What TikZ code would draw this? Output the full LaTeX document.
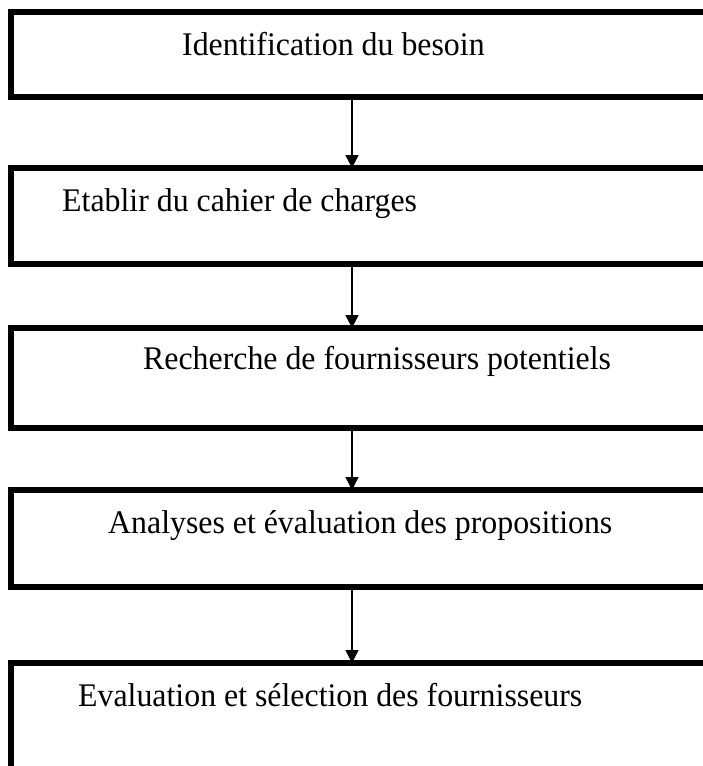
\documentclass[tikz,border=0pt]{standalone}
\usepackage{fontspec}
\setmainfont{Liberation Serif}[FakeStretch=0.965]
\usetikzlibrary{arrows.meta}

\tikzset{
  stepbox/.style={draw, line width=5.5pt, outer sep=0pt, inner sep=0pt,
    anchor=north west, minimum width=730pt},
  steptext/.style={anchor=base west, inner sep=0pt, font=\fontsize{33}{38}\selectfont},
  flow/.style={line width=1.4pt, -{Triangle[length=13pt,width=13pt]}}
}

\begin{document}
\begin{tikzpicture}[x=1pt,y=-1pt]
  \useasboundingbox (0,0) rectangle (702,766);
  % boxes
  \node[stepbox, minimum height=85pt] (b1) at (11,12) {};
  \node[stepbox, minimum height=96pt] (b2) at (11,168) {};
  \node[stepbox, minimum height=100pt] (b3) at (11,328) {};
  \node[stepbox, minimum height=97pt] (b4) at (11,490) {};
  \node[stepbox, minimum height=120pt] (b5) at (11,663) {};
  % texts
  \node[steptext] (t1) at (182,55) {Identification du besoin};
  \node[steptext] (t2) at (62,211) {Etablir du cahier de charges};
  \node[steptext] (t3) at (143,369) {Recherche de fournisseurs potentiels};
  \node[steptext] (t4) at (108,533) {Analyses et évaluation des propositions};
  \node[steptext] (t5) at (78,706) {Evaluation et sélection des fournisseurs};
  % arrows
  \coordinate (ax) at (352,0);
  \draw[flow] (b1.south -| ax) -- (b2.north -| ax);
  \draw[flow] (b2.south -| ax) -- (b3.north -| ax);
  \draw[flow] (b3.south -| ax) -- (b4.north -| ax);
  \draw[flow] (b4.south -| ax) -- (b5.north -| ax);
\end{tikzpicture}
\end{document}
